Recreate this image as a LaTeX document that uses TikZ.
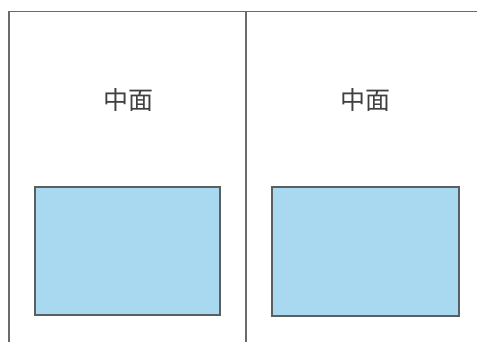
\documentclass[tikz,border=0pt]{standalone}
\usepackage{fontspec}
\newfontfamily\cjk{Noto Sans CJK SC}
\usepackage{tikz}
\usetikzlibrary{positioning}
\definecolor{paneblue}{HTML}{A9D8F1}
\definecolor{edgegray}{HTML}{5A5F60}
\definecolor{framegray}{HTML}{6A6A6A}
\tikzset{
  frame/.style={line width=1.4pt,draw=framegray},
  panel/.style={shape=rectangle,line width=1.4pt,draw=edgegray,fill=paneblue,inner sep=0pt},
  caption/.style={font=\cjk\fontsize{25}{25}\selectfont,text=black!75,inner sep=0pt}
}

\begin{document}
\begin{tikzpicture}[x=1pt,y=-1pt]
    \useasboundingbox (0,0) rectangle (477,342);
    \coordinate (TL) at (9,11.5);
    \coordinate (TR) at (477,11.5);
    \coordinate (BL) at (9,342);
    \coordinate (TM) at (246,11.5);
    \coordinate (BM) at (246,342);
    \draw[frame] (BL) -- (TL) -- (TR);
    \draw[frame] (TM) -- (BM);
    \node[caption] (c1) at (128,100) {中面};
    \node[caption] (c2) at (365,100) {中面};
    \node[panel,minimum width=185pt,minimum height=128pt] (p1) at (127.5,251) {};
    \node[panel,minimum width=187pt,minimum height=129pt] (p2) at (365.5,251.5) {};
  \end{tikzpicture}
\end{document}
